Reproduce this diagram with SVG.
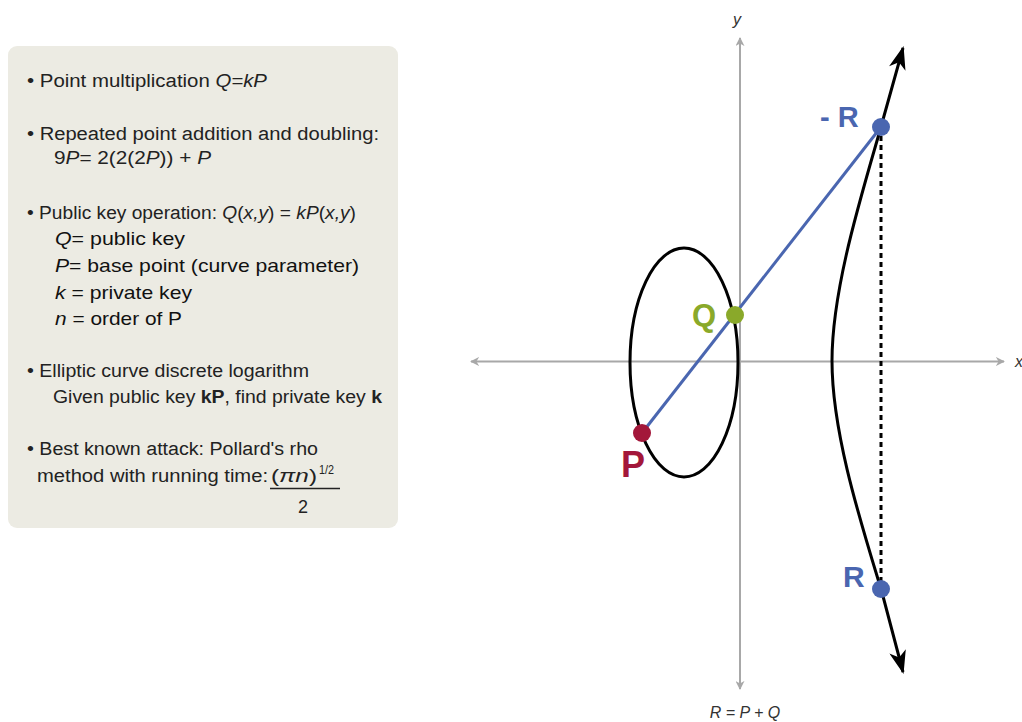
<svg xmlns="http://www.w3.org/2000/svg" width="1022" height="722" viewBox="0 0 1022 722">
<style>
.t{font-family:"Liberation Sans","DejaVu Sans",sans-serif;font-size:18px;fill:#222}
.d{font-family:"Liberation Sans","DejaVu Sans",sans-serif;font-size:19px;fill:#111}
.i{font-style:italic}
.b{font-weight:bold}
.ax{stroke:#a8a8a8;stroke-width:2;fill:none}
.lbl{font-family:"Liberation Sans","DejaVu Sans",sans-serif;font-weight:bold}
.axl{font-family:"Liberation Sans","DejaVu Sans",sans-serif;font-style:italic;font-size:16px;fill:#333}
</style>
<defs>
<marker id="ga" viewBox="0 0 10 10" refX="9" refY="5" markerWidth="9" markerHeight="9" orient="auto-start-reverse" markerUnits="userSpaceOnUse">
<path d="M0,0 L10,5 L0,10 L3,5 Z" fill="#a8a8a8"/>
</marker>
<marker id="ba" viewBox="0 0 22 16" refX="20" refY="8" markerWidth="24" markerHeight="17" orient="auto-start-reverse" markerUnits="userSpaceOnUse">
<path d="M0,0 L22,8 L0,16 L6,8 Z" fill="#000"/>
</marker>
</defs>
<rect width="1022" height="722" fill="#fff"/>
<g id="infobox">
<rect x="8" y="46" width="390" height="482" rx="9" fill="#ecebe3"/>
<text class="t" x="27" y="87" textLength="240" lengthAdjust="spacingAndGlyphs">• Point multiplication <tspan class="i">Q=kP</tspan></text>
<text class="t" x="27" y="140" textLength="352" lengthAdjust="spacingAndGlyphs">• Repeated point addition and doubling:</text>
<text class="t" x="54" y="164" textLength="157" lengthAdjust="spacingAndGlyphs">9<tspan class="i">P</tspan>= 2(2(2<tspan class="i">P</tspan>)) + <tspan class="i">P</tspan></text>
<text class="t" x="27" y="219" textLength="329" lengthAdjust="spacingAndGlyphs">• Public key operation: <tspan class="i">Q</tspan>(<tspan class="i">x,y</tspan>) = <tspan class="i">kP</tspan>(<tspan class="i">x,y</tspan>)</text>
<text class="d" x="55" y="245" textLength="130" lengthAdjust="spacingAndGlyphs"><tspan class="i">Q</tspan>= public key</text>
<text class="d" x="55" y="272" textLength="304" lengthAdjust="spacingAndGlyphs"><tspan class="i">P</tspan>= base point (curve parameter)</text>
<text class="d" x="55" y="299" textLength="137" lengthAdjust="spacingAndGlyphs"><tspan class="i">k</tspan> = private key</text>
<text class="d" x="55" y="325" textLength="127" lengthAdjust="spacingAndGlyphs"><tspan class="i">n</tspan> = order of P</text>
<text class="t" x="27" y="377" textLength="282" lengthAdjust="spacingAndGlyphs">• Elliptic curve discrete logarithm</text>
<text class="t" x="53" y="403" textLength="329" lengthAdjust="spacingAndGlyphs">Given public key <tspan class="b">kP</tspan>, find private key <tspan class="b">k</tspan></text>
<text class="t" x="27" y="455" textLength="291" lengthAdjust="spacingAndGlyphs">• Best known attack: Pollard's rho</text>
<text class="t" x="37" y="482" textLength="231" lengthAdjust="spacingAndGlyphs">method with running time:</text>
<text class="t" x="271" y="482" textLength="46" lengthAdjust="spacingAndGlyphs">(<tspan class="i">πn</tspan>)</text>
<text class="t" x="319" y="474" style="font-size:12px" textLength="15" lengthAdjust="spacingAndGlyphs">1/2</text>
<line x1="270" y1="488.5" x2="340" y2="488.5" stroke="#222" stroke-width="1.5"/>
<text class="t" x="303" y="513" text-anchor="middle">2</text>
</g>
<g id="axes">
<line class="ax" x1="471" y1="361.5" x2="1004" y2="361.5" marker-start="url(#ga)" marker-end="url(#ga)"/>
<line class="ax" x1="740" y1="689" x2="740" y2="38" marker-start="url(#ga)" marker-end="url(#ga)"/>
<text class="axl" x="1015" y="367">x</text>
<text class="axl" x="737" y="25" text-anchor="middle">y</text>
<text class="axl" x="745" y="718" text-anchor="middle">R = P + Q</text>
</g>
<g id="curve">
<ellipse cx="684" cy="362.5" rx="54" ry="114.5" fill="none" stroke="#000" stroke-width="3"/>
<path d="M881,589 L884,600 L903,672" fill="none" stroke="#000" stroke-width="3" marker-end="url(#ba)"/>
<path d="M881,127 L884,116 L903,48" fill="none" stroke="#000" stroke-width="3" marker-end="url(#ba)"/>
<path d="M881,127 C860,200 832,290 832,361 C832,432 860,520 881,589" fill="none" stroke="#000" stroke-width="3"/>
</g>
<g id="connectors">
<line x1="881" y1="127" x2="881" y2="589" stroke="#000" stroke-width="3" stroke-dasharray="5,4"/>
<line x1="642" y1="433" x2="881" y2="127" stroke="#4a66b0" stroke-width="3"/>
</g>
<g id="point-negR">
<circle cx="881" cy="127" r="9" fill="#4a66b0"/>
<text class="lbl" x="820" y="127" font-size="29" fill="#4a66b0">- R</text>
</g>
<g id="point-Q">
<circle cx="735" cy="315" r="9" fill="#8aa92a"/>
<text class="lbl" x="692" y="326" font-size="31" fill="#8aa92a">Q</text>
</g>
<g id="point-P">
<circle cx="642" cy="433" r="9" fill="#a3173a"/>
<text class="lbl" x="621" y="477" font-size="36" fill="#a3173a">P</text>
</g>
<g id="point-R">
<circle cx="881" cy="589" r="9" fill="#4a66b0"/>
<text class="lbl" x="843" y="587" font-size="30" fill="#4a66b0">R</text>
</g>
</svg>
